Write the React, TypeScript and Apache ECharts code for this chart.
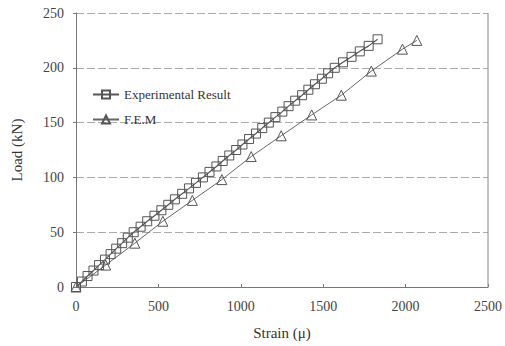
import React, { useEffect, useRef } from "react";
import * as echarts from "echarts";

const expLoad = [0, 5, 10, 15, 20, 25, 30, 35, 40, 45, 50, 55, 60, 65, 70, 75, 80, 85, 90, 95, 100, 105, 110, 115, 120, 125, 130, 135, 140, 145, 150, 155, 160, 165, 170, 175, 180, 185, 190, 195, 200, 205, 210, 215, 220, 226];
const expStrain = [0, 36, 70, 106, 140, 176, 210, 244, 280, 314, 350, 392, 432, 476, 518, 560, 600, 644, 686, 728, 770, 810, 852, 890, 930, 972, 1010, 1050, 1092, 1130, 1170, 1210, 1252, 1290, 1330, 1372, 1410, 1450, 1492, 1530, 1570, 1620, 1672, 1722, 1776, 1830];

const femLoad = [0, 20, 40, 60, 79, 98, 119, 138, 157, 175, 197, 217, 225];
const femStrain = [0, 180, 357, 527, 706, 885, 1063, 1245, 1430, 1610, 1792, 1981, 2068];

const xTicks = [0, 500, 1000, 1500, 2000, 2500];
const yTicks = [0, 50, 100, 150, 200, 250];

const FONT = "'Liberation Serif', 'Times New Roman', serif";

export default function App() {
  const ref = useRef<HTMLDivElement>(null);
  useEffect(() => {
    if (!ref.current) return;
    const chart = echarts.init(ref.current, null, { renderer: "svg" });
    const expData = expStrain.map((s, i) => [s, expLoad[i]]);
    const femData = femStrain.map((s, i) => [s, femLoad[i]]);
    chart.setOption({
      animation: false,
      backgroundColor: "#fff",
      grid: { left: 76, right: 16, top: 13, bottom: 59, show: false },
      legend: {
        orient: "vertical",
        left: 92,
        top: 88,
        padding: 0,
        itemWidth: 26,
        itemHeight: 10,
        itemGap: 12,
        textStyle: { fontFamily: FONT, fontSize: 13, color: "#333" },
        data: ["Experimental Result", "F.E.M"],
      },
      xAxis: {
        type: "value",
        min: xTicks[0],
        max: xTicks[xTicks.length - 1],
        interval: 500,
        name: "Strain (\u03bc)",
        nameLocation: "middle",
        nameGap: 38,
        nameTextStyle: { fontFamily: FONT, fontSize: 15, color: "#333" },
        axisLine: { show: true, onZero: false, lineStyle: { color: "#777", width: 1 } },
        axisTick: { show: true, inside: true, length: 3, lineStyle: { color: "#777" } },
        axisLabel: { fontFamily: FONT, fontSize: 14, color: "#444", margin: 12, formatter: (v: number) => String(v) },
        splitLine: { show: false },
      },
      yAxis: {
        type: "value",
        min: yTicks[0],
        max: yTicks[yTicks.length - 1],
        interval: 50,
        name: "Load (kN)",
        nameLocation: "middle",
        nameGap: 52,
        nameTextStyle: { fontFamily: FONT, fontSize: 15, color: "#333" },
        axisLine: { show: true, lineStyle: { color: "#777", width: 1 } },
        axisTick: { show: true, length: 3, lineStyle: { color: "#777" } },
        axisLabel: { fontFamily: FONT, fontSize: 14, color: "#444", margin: 12, formatter: (v: number) => String(v) },
        splitLine: { show: true, lineStyle: { color: "#aaa", width: 1, type: [8, 3] } },
      },
      series: [
        {
          name: "Experimental Result",
          type: "line",
          data: expData,
          symbol: "rect",
          symbolSize: 9,
          lineStyle: { color: "#555", width: 1.2 },
          itemStyle: { color: "rgba(255,255,255,0)", borderColor: "#555", borderWidth: 1 },
        },
        {
          name: "F.E.M",
          type: "line",
          data: femData,
          symbol: "triangle",
          symbolSize: 10,
          lineStyle: { color: "#666", width: 1 },
          itemStyle: { color: "rgba(255,255,255,0)", borderColor: "#555", borderWidth: 1 },
        },
        {
          type: "line",
          data: [[2500, 0], [2500, 250]],
          symbol: "none",
          silent: true,
          lineStyle: { color: "#888", width: 1 },
        },
      ],
    });
    return () => chart.dispose();
  }, []);
  return <div ref={ref} style={{ position: "fixed", left: 0, top: 0, width: 505, height: 346 }} />;
}
